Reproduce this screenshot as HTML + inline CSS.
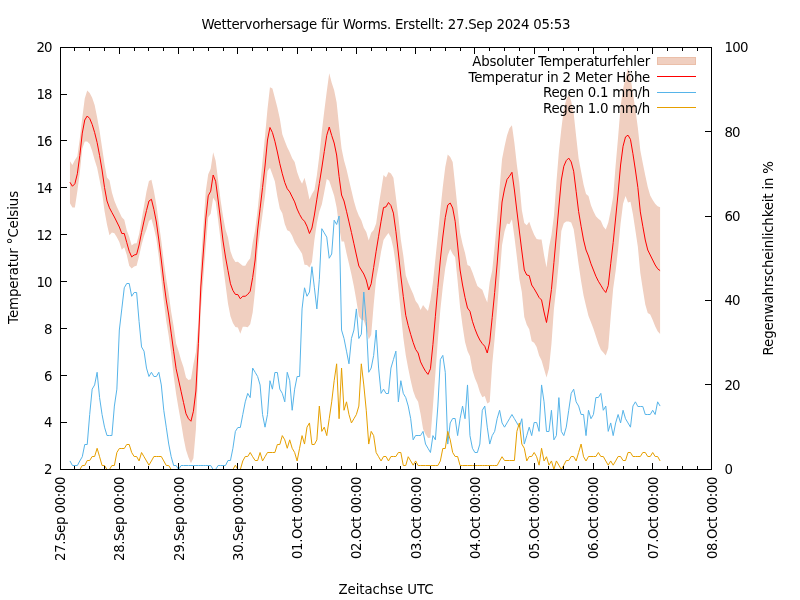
<!DOCTYPE html>
<html lang="de"><head><meta charset="utf-8"><title>Wettervorhersage für Worms</title>
<style>html,body{margin:0;padding:0;background:#fff;overflow:hidden}svg{display:block}text{font-family:'DejaVu Sans','Liberation Sans',sans-serif;font-size:13.33px;fill:#000}</style></head><body>
<svg width="800" height="600" viewBox="0 0 800 600">
<rect width="800" height="600" fill="#fff"/>
<text x="386" y="29" text-anchor="middle" textLength="369" lengthAdjust="spacing">Wettervorhersage für Worms. Erstellt: 27.Sep 2024 05:53</text>
<path d="M69.95,161.35 L72.42,165 L74.89,160 L77.35,156.25 L79.82,138.6 L82.29,117.5 L84.76,98.5 L87.23,90.4 L89.7,92.9 L92.17,97.8 L94.64,104.9 L97.11,117.2 L99.58,131.1 L102.05,147.5 L104.52,164.1 L106.99,177.4 L109.45,180.3 L111.92,192.5 L114.39,200.75 L116.86,206.7 L119.33,211.9 L121.8,217.3 L124.27,219.75 L126.74,230.3 L129.21,236.85 L131.68,245.4 L134.15,243.4 L136.62,243.15 L139.09,234.1 L141.56,220 L144.02,206 L146.49,191.5 L148.96,181 L151.43,179.7 L153.9,191 L156.37,205 L158.84,223 L161.31,241 L163.78,261.25 L166.25,279 L168.72,294 L171.19,312.1 L173.66,326.55 L176.12,343.45 L178.59,351.25 L181.06,360 L183.53,367.2 L186,377.55 L188.47,380 L190.94,379.35 L193.41,364.25 L195.88,352.25 L198.35,322.75 L200.82,263.75 L203.29,227.5 L205.76,191.25 L208.22,174.3 L210.69,168.7 L213.16,152.25 L215.63,160.65 L218.1,180.1 L220.57,200 L223.04,216.5 L225.51,229.4 L227.98,237.4 L230.45,251.25 L232.92,258 L235.39,261.9 L237.86,261.8 L240.32,263.75 L242.79,265.65 L245.26,265.65 L247.73,261.6 L250.2,258.35 L252.67,242.5 L255.14,230 L257.61,210 L260.08,185.42 L262.55,160.83 L265.02,136 L267.49,109 L269.96,87.2 L272.42,88.5 L274.89,98 L277.36,107.6 L279.83,118.75 L282.3,134.35 L284.77,140.9 L287.24,147.25 L289.71,152.3 L292.18,158.15 L294.65,161.9 L297.12,172 L299.59,179.1 L302.06,183.75 L304.53,177.75 L306.99,187.5 L309.46,199.5 L311.93,194 L314.4,190 L316.87,175.2 L319.34,155.5 L321.81,131.5 L324.28,110.9 L326.75,91.55 L329.22,73.2 L331.69,82.7 L334.16,90.2 L336.63,102.5 L339.09,126.5 L341.56,148.4 L344.03,160.4 L346.5,169.35 L348.97,180 L351.44,190.6 L353.91,200.95 L356.38,209.4 L358.85,215.7 L361.32,220.3 L363.79,227.75 L366.26,231.9 L368.73,240.6 L371.19,232.75 L373.66,230 L376.13,223.45 L378.6,205.95 L381.07,190.65 L383.54,175 L386.01,177.5 L388.48,171.9 L390.95,173.4 L393.42,177.8 L395.89,197.25 L398.36,217.25 L400.83,239.6 L403.29,255.5 L405.76,275.3 L408.23,282.6 L410.7,288.4 L413.17,294.1 L415.64,301 L418.11,304.25 L420.58,309.9 L423.05,304.9 L425.52,308.25 L427.99,310.9 L430.46,299.75 L432.93,282.4 L435.39,259 L437.86,235 L440.33,210 L442.8,187 L445.27,166.9 L447.74,154.4 L450.21,157 L452.68,162 L455.15,185.25 L457.62,209 L460.09,232.5 L462.56,244 L465.03,253 L467.5,265 L469.96,266.25 L472.43,272.25 L474.9,279.35 L477.37,286 L479.84,288.1 L482.31,289.85 L484.78,296.55 L487.25,302.5 L489.72,282 L492.19,270.5 L494.66,246.5 L497.13,219 L499.6,188 L502.06,159 L504.53,146.5 L507,135.4 L509.47,128.25 L511.94,125.3 L514.41,143 L516.88,165 L519.35,183 L521.82,210 L524.29,223 L526.76,225.3 L529.23,221.85 L531.7,228.75 L534.16,234.75 L536.63,239 L539.1,239.5 L541.57,239.4 L544.04,255 L546.51,267.5 L548.98,247.5 L551.45,235 L553.92,216 L556.39,182.5 L558.86,152 L561.33,129 L563.8,109.25 L566.26,99.6 L568.73,94.7 L571.2,101.3 L573.67,113.25 L576.14,136.25 L578.61,158.5 L581.08,171.55 L583.55,184.4 L586.02,194 L588.49,196 L590.96,205.15 L593.43,211.25 L595.9,216.25 L598.36,218.75 L600.83,220.75 L603.3,226.4 L605.77,229.5 L608.24,222.85 L610.71,210.75 L613.18,196.5 L615.65,165 L618.12,137 L620.59,106.4 L623.06,88.75 L625.53,77.9 L628,68 L630.47,77 L632.93,93.15 L635.4,109.4 L637.87,128.1 L640.34,150.5 L642.81,163.25 L645.28,175.5 L647.75,187 L650.22,195.6 L652.69,200 L655.16,203.75 L657.63,206.25 L660.1,207.2 L660.1,334 L657.63,331.25 L655.16,326.25 L652.69,320 L650.22,314.4 L647.75,313 L645.28,304.5 L642.81,289.25 L640.34,273.3 L637.87,246.9 L635.4,230.6 L632.93,214.35 L630.47,201.8 L628,202.4 L625.53,195.9 L623.06,203.75 L620.59,223.6 L618.12,249 L615.65,271 L613.18,288.5 L610.71,316.75 L608.24,348.35 L605.77,355.5 L603.3,352.4 L600.83,349.75 L598.36,343.75 L595.9,336.25 L593.43,328.75 L590.96,322.35 L588.49,316 L586.02,306 L583.55,295.6 L581.08,280.95 L578.61,264.5 L576.14,246.25 L573.67,229.25 L571.2,222.5 L568.73,221.5 L566.26,221.6 L563.8,223.25 L561.33,231 L558.86,262 L556.39,287.5 L553.92,309 L551.45,344 L548.98,368.5 L546.51,377.5 L544.04,369 L541.57,360.6 L539.1,355.5 L536.63,347 L534.16,342.75 L531.7,341.25 L529.23,329.35 L526.76,324.7 L524.29,317 L521.82,292 L519.35,279 L516.88,257 L514.41,237 L511.94,219.3 L509.47,224.25 L507,223.4 L504.53,231.5 L502.06,245 L499.6,276 L497.13,309 L494.66,338.5 L492.19,364.5 L489.72,402 L487.25,403.5 L484.78,395.95 L482.31,397.35 L479.84,391.9 L477.37,384 L474.9,378.15 L472.43,370.25 L469.96,356.25 L467.5,351 L465.03,342 L462.56,326 L460.09,307.5 L457.62,281 L455.15,257.25 L452.68,254 L450.21,249 L447.74,255.6 L445.27,268.1 L442.8,287 L440.33,310 L437.86,340 L435.39,373.5 L432.93,406.4 L430.46,437.75 L427.99,437.9 L425.52,434.25 L423.05,428.9 L420.58,413.9 L418.11,401.75 L415.64,397.8 L413.17,390.9 L410.7,380.4 L408.23,368.6 L405.76,355.3 L403.29,337.5 L400.83,312.4 L398.36,288.75 L395.89,265.25 L393.42,248.4 L390.95,237.8 L388.48,233.1 L386.01,236.3 L383.54,240 L381.07,251.85 L378.6,266.55 L376.13,279.05 L373.66,305 L371.19,334.75 L368.73,339.4 L366.26,328.1 L363.79,320.25 L361.32,319.7 L358.85,316.3 L356.38,300.6 L353.91,286.55 L351.44,274.4 L348.97,263.8 L346.5,253.15 L344.03,241.6 L341.56,241.6 L339.09,226.5 L336.63,207.5 L334.16,195.8 L331.69,188.3 L329.22,180.8 L326.75,179.05 L324.28,192.1 L321.81,204.5 L319.34,211.5 L316.87,223.2 L314.4,240 L311.93,262 L309.46,267.5 L306.99,265 L304.53,264.75 L302.06,253.75 L299.59,249.7 L297.12,246 L294.65,241.9 L292.18,235.65 L289.71,231.5 L287.24,230.25 L284.77,224.1 L282.3,213.15 L279.83,208.75 L277.36,196.4 L274.89,181.55 L272.42,174.4 L269.96,167.8 L267.49,171 L265.02,196 L262.55,214.17 L260.08,232.08 L257.61,250 L255.14,290 L252.67,312.5 L250.2,324.15 L247.73,327.2 L245.26,326.85 L242.79,326.85 L240.32,333.75 L237.86,327.4 L235.39,326.9 L232.92,323 L230.45,316.25 L227.98,303.6 L225.51,284.6 L223.04,265.5 L220.57,240 L218.1,219.9 L215.63,201.85 L213.16,197.75 L210.69,213.7 L208.22,217.3 L205.76,246.75 L203.29,278.5 L200.82,310.25 L198.35,364.75 L195.88,429.75 L193.41,458.25 L190.94,463.15 L188.47,457.5 L186,449.95 L183.53,437.8 L181.06,422.5 L178.59,408.75 L176.12,394.05 L173.66,375.95 L171.19,354.1 L168.72,336 L166.25,321 L163.78,301.25 L161.31,279 L158.84,257 L156.37,239 L153.9,228 L151.43,218.9 L148.96,221 L146.49,229.5 L144.02,236 L141.56,245 L139.09,255.9 L136.62,265.65 L134.15,266.6 L131.68,268.4 L129.21,265.65 L126.74,254.7 L124.27,247.25 L121.8,249.7 L119.33,242.1 L116.86,237.3 L114.39,233.25 L111.92,232.5 L109.45,235.3 L106.99,224.6 L104.52,210.9 L102.05,192.5 L99.58,179.9 L97.11,167.8 L94.64,160.1 L92.17,151 L89.7,144.1 L87.23,141.6 L84.76,141.5 L82.29,148.7 L79.82,172.4 L77.35,191.25 L74.89,207.5 L72.42,207.5 L69.95,203.15Z" fill="#f0cfc0" stroke="none"/>
<rect x="657.5" y="57.5" width="38" height="7" fill="#f0cfc0" stroke="#ebbfa9" stroke-width="1"/>
<path d="M69.95,182.25 L72.42,186.25 L74.89,183.75 L77.35,173.75 L79.82,155.5 L82.29,133.1 L84.76,120 L87.23,116 L89.7,118.5 L92.17,124.4 L94.64,132.5 L97.11,142.5 L99.58,155.5 L102.05,170 L104.52,187.5 L106.99,201 L109.45,207.8 L111.92,212.5 L114.39,217 L116.86,222 L119.33,227 L121.8,233.5 L124.27,233.5 L126.74,242.5 L129.21,251.25 L131.68,256.9 L134.15,255 L136.62,254.4 L139.09,245 L141.56,232.5 L144.02,221 L146.49,210.5 L148.96,201 L151.43,199.3 L153.9,209.5 L156.37,222 L158.84,240 L161.31,260 L163.78,281.25 L166.25,300 L168.72,315 L171.19,333.1 L173.66,351.25 L176.12,368.75 L178.59,380 L181.06,391.25 L183.53,402.5 L186,413.75 L188.47,418.75 L190.94,421.25 L193.41,411.25 L195.88,391 L198.35,343.75 L200.82,287 L203.29,253 L205.76,219 L208.22,195.8 L210.69,191.2 L213.16,175 L215.63,181.25 L218.1,200 L220.57,220 L223.04,241 L225.51,257 L227.98,270.5 L230.45,283.75 L232.92,290.5 L235.39,294.4 L237.86,294.6 L240.32,298.75 L242.79,296.25 L245.26,296.25 L247.73,294.4 L250.2,291.25 L252.67,277.5 L255.14,260 L257.61,230 L260.08,208.75 L262.55,187.5 L265.02,166 L267.49,140 L269.96,127.5 L272.42,132.5 L274.89,141.25 L277.36,152 L279.83,163.75 L282.3,173.75 L284.77,182.5 L287.24,188.75 L289.71,191.9 L292.18,196.9 L294.65,201.9 L297.12,209 L299.59,214.4 L302.06,218.75 L304.53,221.25 L306.99,226.25 L309.46,233.5 L311.93,228 L314.4,215 L316.87,199.2 L319.34,183.5 L321.81,168 L324.28,151.5 L326.75,135.3 L329.22,127 L331.69,135.5 L334.16,143 L336.63,155 L339.09,176.5 L341.56,195 L344.03,201 L346.5,211.25 L348.97,221.9 L351.44,232.5 L353.91,243.75 L356.38,255 L358.85,266 L361.32,270 L363.79,274 L366.26,280 L368.73,290 L371.19,283.75 L373.66,267.5 L376.13,251.25 L378.6,236.25 L381.07,221.25 L383.54,207.5 L386.01,206.9 L388.48,202.5 L390.95,205.6 L393.42,213.1 L395.89,231.25 L398.36,253 L400.83,276 L403.29,296.5 L405.76,315.3 L408.23,325.6 L410.7,334.4 L413.17,342.5 L415.64,349.4 L418.11,353 L420.58,361.9 L423.05,366.9 L425.52,371.25 L427.99,374.4 L430.46,368.75 L432.93,344.4 L435.39,316.25 L437.86,287.5 L440.33,260 L442.8,237 L445.27,217.5 L447.74,205 L450.21,203 L452.68,208 L455.15,221.25 L457.62,245 L460.09,270 L462.56,285 L465.03,297.5 L467.5,308 L469.96,311.25 L472.43,321.25 L474.9,328.75 L477.37,335 L479.84,340 L482.31,343.6 L484.78,346.25 L487.25,353 L489.72,342 L492.19,317.5 L494.66,292.5 L497.13,264 L499.6,232 L502.06,202 L504.53,189 L507,179.4 L509.47,176.25 L511.94,172.3 L514.41,190 L516.88,211 L519.35,231 L521.82,251 L524.29,270 L526.76,275 L529.23,275.6 L531.7,285 L534.16,288.75 L536.63,293 L539.1,297.5 L541.57,300 L544.04,312 L546.51,322.5 L548.98,308 L551.45,289.5 L553.92,262.5 L556.39,235 L558.86,207 L561.33,180 L563.8,166.25 L566.26,160.6 L568.73,158.1 L571.2,161.9 L573.67,171.25 L576.14,191.25 L578.61,211.5 L581.08,226.25 L583.55,240 L586.02,250 L588.49,256 L590.96,263.75 L593.43,270 L595.9,276.25 L598.36,281.25 L600.83,285.25 L603.3,289.4 L605.77,292.5 L608.24,285.6 L610.71,263.75 L613.18,242.5 L615.65,218 L618.12,193 L620.59,165 L623.06,146.25 L625.53,136.9 L628,135.2 L630.47,139.4 L632.93,153.75 L635.4,170 L637.87,187.5 L640.34,211.9 L642.81,226.25 L645.28,240 L647.75,250 L650.22,255 L652.69,260 L655.16,265 L657.63,268.75 L660.1,270.6" fill="none" stroke="#ff0000" stroke-width="1" stroke-linejoin="miter" stroke-miterlimit="10"/>
<path d="M69.95,460.95 L72.42,465.5 L74.89,465.5 L77.35,465.5 L79.82,460.95 L82.29,456.73 L84.76,444.5 L87.23,444.5 L89.7,414.5 L92.17,389.16 L94.64,384.94 L97.11,372.27 L99.58,397.61 L102.05,414.5 L104.52,427.17 L106.99,435.5 L109.45,435.5 L111.92,435.5 L114.39,406.05 L116.86,389.16 L119.33,330.04 L121.8,308.93 L124.27,287.81 L126.74,283.5 L129.21,283.5 L131.68,296.26 L134.15,292.5 L136.62,292.5 L139.09,321.59 L141.56,346.93 L144.02,351.16 L146.49,368.05 L148.96,376.49 L151.43,372.27 L153.9,376.5 L156.37,376.5 L158.84,372.27 L161.31,384.94 L163.78,410.28 L166.25,427.17 L168.72,444.06 L171.19,456.73 L173.66,465.5 L176.12,465.5 L178.59,469.4 L181.06,465.5 L183.53,465.5 L186,465.5 L188.47,465.5 L190.94,465.5 L193.41,465.5 L195.88,465.5 L198.35,465.5 L200.82,465.5 L203.29,465.5 L205.76,465.5 L208.22,465.5 L210.69,465.5 L213.16,469.5 L215.63,469.5 L218.1,465.5 L220.57,465.5 L223.04,465.5 L225.51,465.5 L227.98,460.5 L230.45,460.5 L232.92,448.28 L235.39,431.39 L237.86,427.5 L240.32,427.5 L242.79,414.5 L245.26,401.83 L247.73,393.39 L250.2,397.61 L252.67,368.05 L255.14,372.27 L257.61,376.49 L260.08,384.94 L262.55,414.5 L265.02,427.17 L267.49,414.5 L269.96,380.72 L272.42,389.16 L274.89,372.5 L277.36,372.5 L279.83,389.16 L282.3,393.39 L284.77,401.83 L287.24,372.27 L289.71,380.72 L292.18,410.28 L294.65,389.16 L297.12,376.5 L299.59,376.5 L302.06,308.93 L304.53,287.81 L306.99,296.26 L309.46,292.03 L311.93,266.7 L314.4,287.81 L316.87,308.93 L319.34,279.37 L321.81,228.69 L324.28,232.91 L326.75,237.13 L329.22,258.25 L331.69,254.03 L334.16,220.24 L336.63,224.47 L339.09,216.02 L341.56,330.04 L344.03,338.49 L346.5,351.16 L348.97,363.82 L351.44,338.49 L353.91,330.04 L356.38,308.93 L358.85,338.49 L361.32,334.26 L363.79,292.03 L366.26,321.59 L368.73,372.27 L371.19,368.05 L373.66,355.38 L376.13,330.04 L378.6,368.05 L381.07,393.39 L383.54,389.16 L386.01,393.5 L388.48,393.5 L390.95,368.05 L393.42,359.6 L395.89,351.16 L398.36,401.83 L400.83,380.72 L403.29,393.39 L405.76,397.61 L408.23,406.05 L410.7,418.72 L413.17,439.84 L415.64,435.5 L418.11,435.5 L420.58,435.5 L423.05,431.39 L425.52,444.06 L427.99,448.28 L430.46,452.51 L432.93,435.62 L435.39,439.84 L437.86,406.05 L440.33,359.6 L442.8,355.38 L445.27,372.27 L447.74,444.06 L450.21,422.95 L452.68,418.5 L455.15,418.5 L457.62,435.62 L460.09,418.72 L462.56,406.05 L465.03,418.72 L467.5,384.94 L469.96,435.62 L472.43,448.28 L474.9,452.5 L477.37,452.5 L479.84,444.06 L482.31,410.28 L484.78,406.05 L487.25,427.17 L489.72,444.06 L492.19,435.62 L494.66,431.39 L497.13,418.72 L499.6,410.28 L502.06,422.95 L504.53,427.17 L507,422.95 L509.47,418.72 L511.94,414.5 L514.41,418.72 L516.88,422.95 L519.35,427.17 L521.82,418.72 L524.29,444.06 L526.76,435.62 L529.23,427.17 L531.7,435.62 L534.16,422.5 L536.63,422.5 L539.1,431.39 L541.57,384.94 L544.04,401.83 L546.51,431.5 L548.98,431.5 L551.45,410.28 L553.92,439.84 L556.39,435.62 L558.86,397.61 L561.33,431.39 L563.8,435.62 L566.26,427.17 L568.73,410.28 L571.2,393.39 L573.67,389.16 L576.14,401.83 L578.61,406.05 L581.08,414.5 L583.55,414.5 L586.02,435.62 L588.49,410.28 L590.96,418.72 L593.43,414.5 L595.9,397.5 L598.36,397.5 L600.83,393.39 L603.3,410.28 L605.77,406.05 L608.24,431.39 L610.71,422.95 L613.18,435.62 L615.65,422.95 L618.12,414.5 L620.59,422.95 L623.06,410.28 L625.53,418.72 L628,422.95 L630.47,427.17 L632.93,406.05 L635.4,401.83 L637.87,406.5 L640.34,406.5 L642.81,406.5 L645.28,414.5 L647.75,414.5 L650.22,414.5 L652.69,410.28 L655.16,414.5 L657.63,401.83 L660.1,406.05" fill="none" stroke="#56b4e9" stroke-width="1" stroke-linejoin="miter" stroke-miterlimit="10"/>
<path d="M69.95,469.5 L72.42,469.5 L74.89,469.5 L77.35,469.5 L79.82,469.5 L82.29,465.5 L84.76,465.5 L87.23,460.5 L89.7,460.5 L92.17,456.5 L94.64,456.5 L97.11,448.28 L99.58,456.73 L102.05,465.5 L104.52,465.5 L106.99,469.5 L109.45,469.5 L111.92,465.5 L114.39,465.5 L116.86,452.51 L119.33,448.5 L121.8,448.5 L124.27,448.5 L126.74,444.5 L129.21,444.5 L131.68,452.51 L134.15,456.5 L136.62,456.5 L139.09,460.95 L141.56,452.51 L144.02,456.73 L146.49,460.95 L148.96,465.18 L151.43,460.95 L153.9,456.5 L156.37,456.5 L158.84,456.5 L161.31,456.5 L163.78,460.95 L166.25,465.5 L168.72,465.5 L171.19,469.5 L173.66,469.5 L176.12,469.5 L178.59,469.5 L181.06,469.5 L183.53,469.5 L186,469.5 L188.47,469.5 L190.94,469.5 L193.41,469.5 L195.88,469.5 L198.35,469.5 L200.82,469.5 L203.29,469.5 L205.76,469.5 L208.22,469.5 L210.69,469.5 L213.16,469.5 L215.63,469.5 L218.1,469.5 L220.57,469.5 L223.04,469.5 L225.51,469.5 L227.98,469.5 L230.45,469.5 L232.92,469.5 L235.39,465.18 L237.86,469.5 L240.32,469.5 L242.79,460.95 L245.26,456.5 L247.73,456.5 L250.2,452.51 L252.67,456.73 L255.14,460.5 L257.61,460.5 L260.08,452.51 L262.55,460.95 L265.02,456.73 L267.49,452.5 L269.96,452.5 L272.42,452.5 L274.89,452.5 L277.36,444.5 L279.83,444.5 L282.3,435.62 L284.77,439.84 L287.24,448.28 L289.71,439.84 L292.18,448.28 L294.65,452.51 L297.12,460.95 L299.59,448.28 L302.06,435.62 L304.53,444.06 L306.99,427.17 L309.46,422.95 L311.93,444.5 L314.4,444.5 L316.87,439.84 L319.34,406.05 L321.81,431.39 L324.28,427.17 L326.75,435.62 L329.22,418.72 L331.69,401.83 L334.16,380.72 L336.63,363.82 L339.09,418.72 L341.56,368.05 L344.03,410.28 L346.5,401.83 L348.97,414.5 L351.44,422.95 L353.91,418.72 L356.38,414.5 L358.85,406.05 L361.32,363.82 L363.79,384.94 L366.26,410.28 L368.73,444.06 L371.19,431.39 L373.66,435.62 L376.13,452.51 L378.6,456.73 L381.07,460.95 L383.54,456.5 L386.01,456.5 L388.48,460.95 L390.95,456.5 L393.42,456.5 L395.89,456.5 L398.36,452.5 L400.83,452.5 L403.29,465.5 L405.76,465.5 L408.23,456.73 L410.7,460.95 L413.17,465.18 L415.64,460.95 L418.11,465.5 L420.58,465.5 L423.05,465.5 L425.52,465.5 L427.99,465.5 L430.46,465.5 L432.93,465.5 L435.39,465.5 L437.86,465.5 L440.33,460.95 L442.8,448.5 L445.27,448.5 L447.74,431.39 L450.21,439.84 L452.68,452.51 L455.15,456.5 L457.62,456.5 L460.09,465.5 L462.56,465.5 L465.03,465.5 L467.5,465.5 L469.96,465.5 L472.43,465.5 L474.9,465.5 L477.37,465.5 L479.84,465.5 L482.31,465.5 L484.78,465.5 L487.25,465.5 L489.72,465.5 L492.19,465.5 L494.66,465.5 L497.13,465.5 L499.6,460.95 L502.06,456.73 L504.53,460.5 L507,460.5 L509.47,460.5 L511.94,460.5 L514.41,460.5 L516.88,431.39 L519.35,422.95 L521.82,444.06 L524.29,448.28 L526.76,460.95 L529.23,456.5 L531.7,456.5 L534.16,452.51 L536.63,456.73 L539.1,465.18 L541.57,448.28 L544.04,460.95 L546.51,456.73 L548.98,465.18 L551.45,460.95 L553.92,469.4 L556.39,460.95 L558.86,465.18 L561.33,469.4 L563.8,465.18 L566.26,460.5 L568.73,460.5 L571.2,456.5 L573.67,456.5 L576.14,460.95 L578.61,452.51 L581.08,444.06 L583.55,456.73 L586.02,460.95 L588.49,456.5 L590.96,456.5 L593.43,456.5 L595.9,456.5 L598.36,452.51 L600.83,456.5 L603.3,456.5 L605.77,460.95 L608.24,465.18 L610.71,460.95 L613.18,465.18 L615.65,460.95 L618.12,456.5 L620.59,456.5 L623.06,460.5 L625.53,460.5 L628,452.5 L630.47,452.5 L632.93,456.5 L635.4,456.5 L637.87,456.5 L640.34,456.5 L642.81,452.5 L645.28,452.5 L647.75,456.5 L650.22,456.5 L652.69,452.51 L655.16,456.5 L657.63,456.5 L660.1,460.95" fill="none" stroke="#e69f00" stroke-width="1" stroke-linejoin="miter" stroke-miterlimit="10"/>
<text x="650.3" y="66" text-anchor="end" textLength="178" lengthAdjust="spacing">Absoluter Temperaturfehler</text>
<text x="650.3" y="82" text-anchor="end" textLength="181.8" lengthAdjust="spacing">Temperatur in 2 Meter Höhe</text>
<path d="M657,76.5 H696" stroke="#ff0000" stroke-width="1" fill="none"/>
<text x="650.3" y="97" text-anchor="end" textLength="107.3" lengthAdjust="spacing">Regen 0.1 mm/h</text>
<path d="M657,92.5 H696" stroke="#56b4e9" stroke-width="1" fill="none"/>
<text x="650.3" y="112.5" text-anchor="end" textLength="107.3" lengthAdjust="spacing">Regen 1.0 mm/h</text>
<path d="M657,107.5 H696" stroke="#e69f00" stroke-width="1" fill="none"/>
<g stroke="#000" stroke-width="1" fill="none" shape-rendering="crispEdges">
<rect x="60.5" y="47.5" width="651.0" height="422.0"/>
<path d="M60.5,469.5 v-6.5 M60.5,47.5 v6.5 M74.5,469.5 v-3.5 M74.5,47.5 v3.5 M89.5,469.5 v-3.5 M89.5,47.5 v3.5 M104.5,469.5 v-3.5 M104.5,47.5 v3.5 M119.5,469.5 v-6.5 M119.5,47.5 v6.5 M134.5,469.5 v-3.5 M134.5,47.5 v3.5 M148.5,469.5 v-3.5 M148.5,47.5 v3.5 M163.5,469.5 v-3.5 M163.5,47.5 v3.5 M178.5,469.5 v-6.5 M178.5,47.5 v6.5 M193.5,469.5 v-3.5 M193.5,47.5 v3.5 M208.5,469.5 v-3.5 M208.5,47.5 v3.5 M223.5,469.5 v-3.5 M223.5,47.5 v3.5 M237.5,469.5 v-6.5 M237.5,47.5 v6.5 M252.5,469.5 v-3.5 M252.5,47.5 v3.5 M267.5,469.5 v-3.5 M267.5,47.5 v3.5 M282.5,469.5 v-3.5 M282.5,47.5 v3.5 M297.5,469.5 v-6.5 M297.5,47.5 v6.5 M311.5,469.5 v-3.5 M311.5,47.5 v3.5 M326.5,469.5 v-3.5 M326.5,47.5 v3.5 M341.5,469.5 v-3.5 M341.5,47.5 v3.5 M356.5,469.5 v-6.5 M356.5,47.5 v6.5 M371.5,469.5 v-3.5 M371.5,47.5 v3.5 M386.5,469.5 v-3.5 M386.5,47.5 v3.5 M400.5,469.5 v-3.5 M400.5,47.5 v3.5 M415.5,469.5 v-6.5 M415.5,47.5 v6.5 M430.5,469.5 v-3.5 M430.5,47.5 v3.5 M445.5,469.5 v-3.5 M445.5,47.5 v3.5 M460.5,469.5 v-3.5 M460.5,47.5 v3.5 M474.5,469.5 v-6.5 M474.5,47.5 v6.5 M489.5,469.5 v-3.5 M489.5,47.5 v3.5 M504.5,469.5 v-3.5 M504.5,47.5 v3.5 M519.5,469.5 v-3.5 M519.5,47.5 v3.5 M534.5,469.5 v-6.5 M534.5,47.5 v6.5 M548.5,469.5 v-3.5 M548.5,47.5 v3.5 M563.5,469.5 v-3.5 M563.5,47.5 v3.5 M578.5,469.5 v-3.5 M578.5,47.5 v3.5 M593.5,469.5 v-6.5 M593.5,47.5 v6.5 M608.5,469.5 v-3.5 M608.5,47.5 v3.5 M623.5,469.5 v-3.5 M623.5,47.5 v3.5 M637.5,469.5 v-3.5 M637.5,47.5 v3.5 M652.5,469.5 v-6.5 M652.5,47.5 v6.5 M667.5,469.5 v-3.5 M667.5,47.5 v3.5 M682.5,469.5 v-3.5 M682.5,47.5 v3.5 M697.5,469.5 v-3.5 M697.5,47.5 v3.5 M711.5,469.5 v-6.5 M711.5,47.5 v6.5 M60.5,469.5 h6 M60.5,422.5 h6 M60.5,375.5 h6 M60.5,328.5 h6 M60.5,281.5 h6 M60.5,234.5 h6 M60.5,187.5 h6 M60.5,140.5 h6 M60.5,94.5 h6 M60.5,47.5 h6 M711.5,469.5 h-6.5 M711.5,384.5 h-6.5 M711.5,300.5 h-6.5 M711.5,216.5 h-6.5 M711.5,131.5 h-6.5 M711.5,47.5 h-6.5"/>
</g>
<text x="52.5" y="474.4" text-anchor="end" textLength="8" lengthAdjust="spacing">2</text>
<text x="52.5" y="427.48" text-anchor="end" textLength="8" lengthAdjust="spacing">4</text>
<text x="52.5" y="380.56" text-anchor="end" textLength="8" lengthAdjust="spacing">6</text>
<text x="52.5" y="333.63" text-anchor="end" textLength="8" lengthAdjust="spacing">8</text>
<text x="52.5" y="286.71" text-anchor="end" textLength="16" lengthAdjust="spacing">10</text>
<text x="52.5" y="239.79" text-anchor="end" textLength="16" lengthAdjust="spacing">12</text>
<text x="52.5" y="192.87" text-anchor="end" textLength="16" lengthAdjust="spacing">14</text>
<text x="52.5" y="145.94" text-anchor="end" textLength="16" lengthAdjust="spacing">16</text>
<text x="52.5" y="99.02" text-anchor="end" textLength="16" lengthAdjust="spacing">18</text>
<text x="52.5" y="52.1" text-anchor="end" textLength="16" lengthAdjust="spacing">20</text>
<text x="724.5" y="474.4" textLength="8" lengthAdjust="spacing">0</text>
<text x="724.5" y="389.94" textLength="16" lengthAdjust="spacing">20</text>
<text x="724.5" y="305.48" textLength="16" lengthAdjust="spacing">40</text>
<text x="724.5" y="221.02" textLength="16" lengthAdjust="spacing">60</text>
<text x="724.5" y="136.56" textLength="16" lengthAdjust="spacing">80</text>
<text x="724.5" y="52.1" textLength="24" lengthAdjust="spacing">100</text>
<text x="65.2" y="476.5" text-anchor="end" textLength="84.4" lengthAdjust="spacing" transform="rotate(-90 65.2 476.5)">27.Sep 00:00</text>
<text x="124.2" y="476.5" text-anchor="end" textLength="84.4" lengthAdjust="spacing" transform="rotate(-90 124.2 476.5)">28.Sep 00:00</text>
<text x="184.2" y="476.5" text-anchor="end" textLength="84.4" lengthAdjust="spacing" transform="rotate(-90 184.2 476.5)">29.Sep 00:00</text>
<text x="243.2" y="476.5" text-anchor="end" textLength="84.4" lengthAdjust="spacing" transform="rotate(-90 243.2 476.5)">30.Sep 00:00</text>
<text x="302.2" y="476.5" text-anchor="end" textLength="82.5" lengthAdjust="spacing" transform="rotate(-90 302.2 476.5)">01.Oct 00:00</text>
<text x="361.2" y="476.5" text-anchor="end" textLength="82.5" lengthAdjust="spacing" transform="rotate(-90 361.2 476.5)">02.Oct 00:00</text>
<text x="421.2" y="476.5" text-anchor="end" textLength="82.5" lengthAdjust="spacing" transform="rotate(-90 421.2 476.5)">03.Oct 00:00</text>
<text x="480.2" y="476.5" text-anchor="end" textLength="82.5" lengthAdjust="spacing" transform="rotate(-90 480.2 476.5)">04.Oct 00:00</text>
<text x="539.2" y="476.5" text-anchor="end" textLength="82.5" lengthAdjust="spacing" transform="rotate(-90 539.2 476.5)">05.Oct 00:00</text>
<text x="598.2" y="476.5" text-anchor="end" textLength="82.5" lengthAdjust="spacing" transform="rotate(-90 598.2 476.5)">06.Oct 00:00</text>
<text x="658.2" y="476.5" text-anchor="end" textLength="82.5" lengthAdjust="spacing" transform="rotate(-90 658.2 476.5)">07.Oct 00:00</text>
<text x="717.2" y="476.5" text-anchor="end" textLength="82.5" lengthAdjust="spacing" transform="rotate(-90 717.2 476.5)">08.Oct 00:00</text>
<text x="18.5" y="257.4" text-anchor="middle" textLength="133" lengthAdjust="spacing" transform="rotate(-90 18.5 257.4)">Temperatur °Celsius</text>
<text x="773" y="258.2" text-anchor="middle" textLength="194.4" lengthAdjust="spacing" transform="rotate(-90 773 258.2)">Regenwahrscheinlichkeit in %</text>
<text x="386" y="594" text-anchor="middle" textLength="95" lengthAdjust="spacing">Zeitachse UTC</text>
</svg></body></html>
